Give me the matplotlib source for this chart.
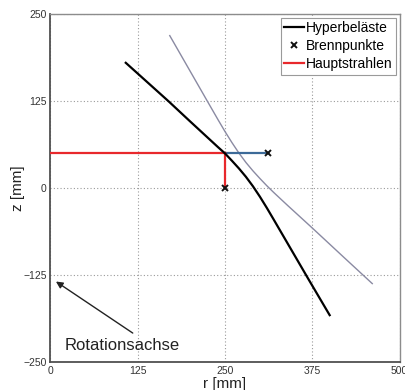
import numpy as np
import matplotlib
matplotlib.use("Agg")
import matplotlib.pyplot as plt

plt.rcParams['font.family'] = ['Liberation Sans', 'DejaVu Sans']

# --- data ---
# Hyperbeläste (black): straight-ish upper part, bend at the main ray
black_r = [108, 169, 200, 240, 250, 260, 270, 280, 290, 300, 310, 320, 340, 370, 400]
black_z = [180, 125, 96, 59, 50, 39.4, 28.4, 16.4, 2.9, -12.1, -28.3, -45.3, -79.7, -131.3, -182.3]

# second hyperbola branch (gray)
gray_r = [171, 200, 225, 240, 250, 260, 270, 280, 290, 300, 310, 320, 340, 376, 420, 461]
gray_z = [219, 168.3, 124.6, 98.5, 81.5, 65.5, 50.5, 37, 25, 14, 3.5, -6.3, -25, -58, -99, -137]

# Hauptstrahlen (red)
ray_h_r = [0, 250]
ray_h_z = [50, 50]
ray_v_r = [250, 250]
ray_v_z = [50, 0]

# blue ray to second focus
blue_r = [250, 312]
blue_z = [50, 50]

# Brennpunkte
focus_r = [250, 312]
focus_z = [0, 50]

xticks = [0, 125, 250, 375, 500]
yticks = [-250, -125, 0, 125, 250]

fig = plt.figure(figsize=(4.06, 3.90), dpi=100)
ax = fig.add_axes([0.124, 0.071, 0.86, 0.893])

ax.plot(gray_r, gray_z, color='#8a8aa2', lw=1.0, zorder=2)
ax.plot(blue_r, blue_z, color='#3c6a98', lw=1.6, zorder=3)
l_hyp, = ax.plot(black_r, black_z, color='black', lw=1.6, zorder=4, label='Hyperbeläste')
l_ray, = ax.plot(ray_h_r, ray_h_z, color='#e8282c', lw=1.6, zorder=3, label='Hauptstrahlen')
ax.plot(ray_v_r, ray_v_z, color='#e8282c', lw=1.6, zorder=3)
l_foc, = ax.plot(focus_r, focus_z, ls='none', marker='x', color='#111111',
                 ms=5, mew=1.4, zorder=5, label='Brennpunkte')

ax.set_xlim(0, 500)
ax.set_ylim(-250, 250)
ax.set_xticks(xticks)
ax.set_yticks(yticks)
ax.tick_params(length=0, labelsize=7.5, labelcolor='#333333', pad=2.5)
ax.grid(True, color='#9a9a9a', lw=0.8, linestyle=(0, (1, 2)))
ax.set_axisbelow(True)

for side in ['left', 'bottom']:
    ax.spines[side].set_color('#505050')
    ax.spines[side].set_linewidth(1.3)
for side in ['top', 'right']:
    ax.spines[side].set_color('#8c8c8c')
    ax.spines[side].set_linewidth(1.0)

ax.set_xlabel('r [mm]', fontsize=11, color='#222222', labelpad=1)
ax.set_ylabel('z [mm]', fontsize=11, color='#222222', labelpad=-1)

leg = ax.legend(handles=[l_hyp, l_foc, l_ray], loc='upper right',
                bbox_to_anchor=(1.0, 1.0), borderaxespad=0.25, fontsize=10,
                fancybox=False, framealpha=1, edgecolor='#9a9a9a',
                handlelength=1.4, handletextpad=0.15, labelspacing=0.3,
                borderpad=0.25)
leg.get_frame().set_linewidth(0.8)

ax.annotate('', xy=(8, -134), xytext=(118, -208),
            arrowprops=dict(arrowstyle='-|>', color='#222222', lw=1.0,
                            mutation_scale=10, shrinkA=0, shrinkB=0))
ax.text(21, -232, 'Rotationsachse', fontsize=12, color='#222222',
        ha='left', va='baseline')

fig.savefig('out.png', dpi=100)
